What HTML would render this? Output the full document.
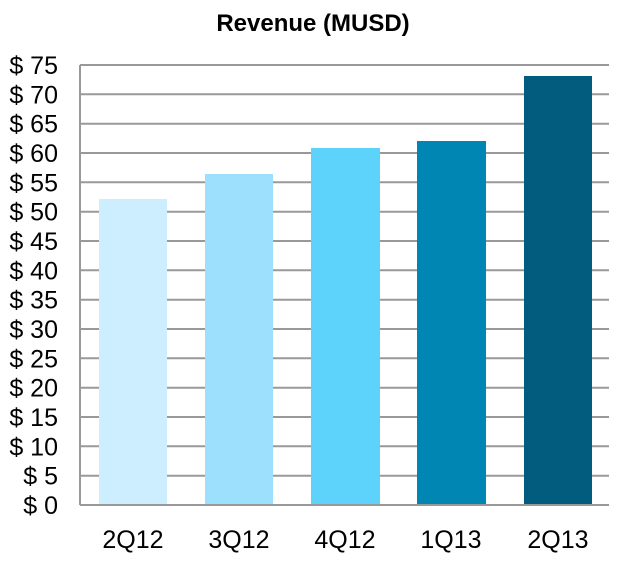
<!DOCTYPE html><html><head><style>body{margin:0;background:#fff}</style></head><body>
<svg width="625" height="556" xmlns="http://www.w3.org/2000/svg" font-family="Liberation Sans, Arial, sans-serif">
<rect width="625" height="556" fill="#fff"/>
<text x="313" y="31" text-anchor="middle" font-size="24" font-weight="bold">Revenue (MUSD)</text>
<g stroke="#999" stroke-width="2">
<line x1="80" y1="65" x2="609" y2="65"/><line x1="80" y1="94.3" x2="609" y2="94.3"/><line x1="80" y1="123.7" x2="609" y2="123.7"/><line x1="80" y1="153" x2="609" y2="153"/><line x1="80" y1="182.3" x2="609" y2="182.3"/><line x1="80" y1="211.7" x2="609" y2="211.7"/><line x1="80" y1="241" x2="609" y2="241"/><line x1="80" y1="270.3" x2="609" y2="270.3"/><line x1="80" y1="299.7" x2="609" y2="299.7"/><line x1="80" y1="329" x2="609" y2="329"/><line x1="80" y1="358.3" x2="609" y2="358.3"/><line x1="80" y1="387.7" x2="609" y2="387.7"/><line x1="80" y1="417" x2="609" y2="417"/><line x1="80" y1="446.3" x2="609" y2="446.3"/><line x1="80" y1="475.7" x2="609" y2="475.7"/>
<line x1="80" y1="65" x2="80" y2="505"/><line x1="80" y1="505" x2="609" y2="505"/>
</g>
<rect x="99" y="199" width="68" height="305" fill="#cdeefe"/>
<rect x="205" y="174" width="68" height="330" fill="#9ce0fd"/>
<rect x="311" y="148" width="69" height="356" fill="#5dd3fc"/>
<rect x="417" y="141" width="69" height="363" fill="#0086b3"/>
<rect x="524" y="76" width="68" height="428" fill="#025c7e"/>
<g font-size="25" text-anchor="end">
<text x="58" y="74">$ 75</text><text x="58" y="103.3">$ 70</text><text x="58" y="132.7">$ 65</text><text x="58" y="162">$ 60</text><text x="58" y="191.3">$ 55</text><text x="58" y="220.7">$ 50</text><text x="58" y="250">$ 45</text><text x="58" y="279.3">$ 40</text><text x="58" y="308.7">$ 35</text><text x="58" y="338">$ 30</text><text x="58" y="367.3">$ 25</text><text x="58" y="396.7">$ 20</text><text x="58" y="426">$ 15</text><text x="58" y="455.3">$ 10</text><text x="58" y="484.7">$ 5</text><text x="58" y="514">$ 0</text>
</g>
<g font-size="25" text-anchor="middle">
<text x="133" y="548">2Q12</text><text x="239" y="548">3Q12</text><text x="345" y="548">4Q12</text><text x="451" y="548">1Q13</text><text x="558" y="548">2Q13</text>
</g>
</svg></body></html>
